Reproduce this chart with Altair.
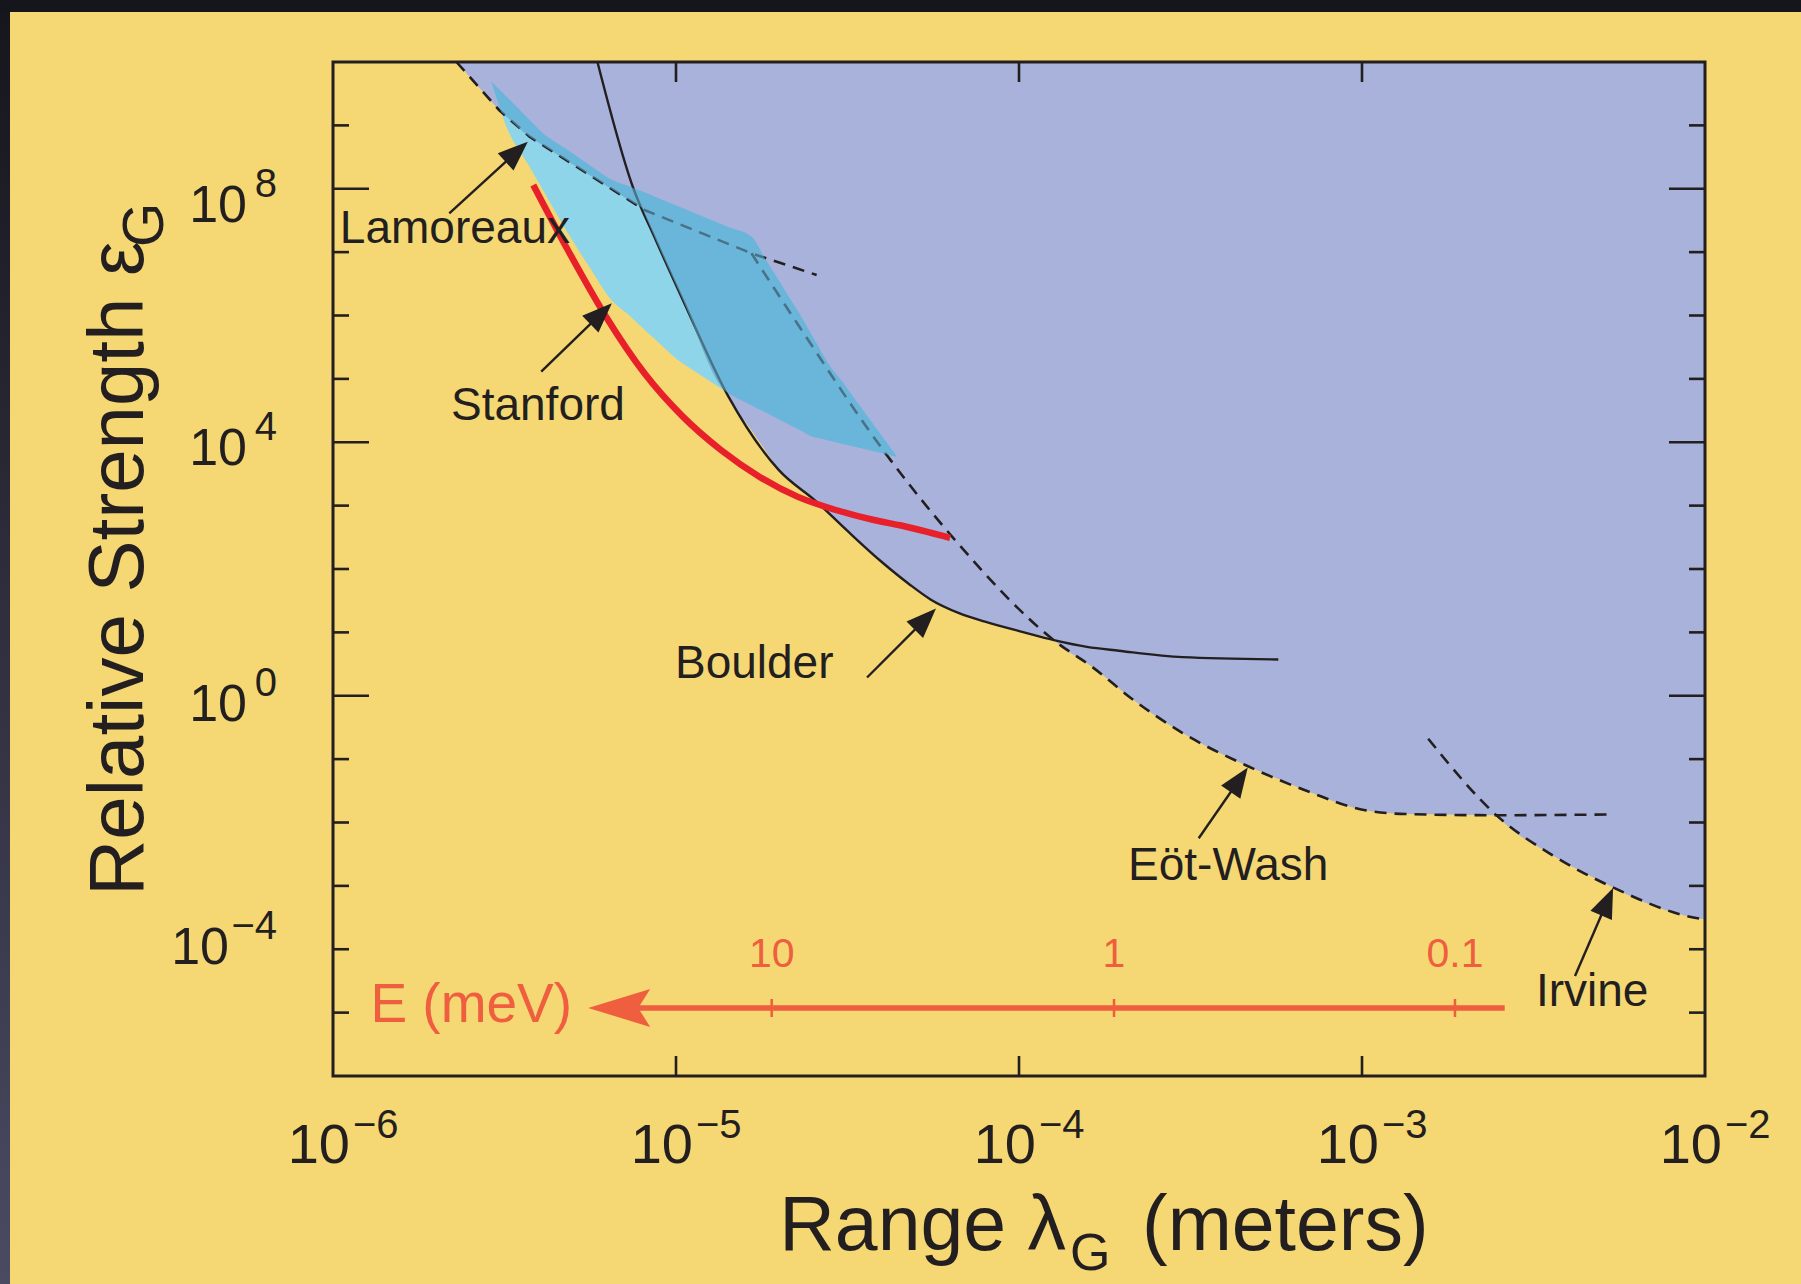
import math

import altair as alt
import numpy as np
import pandas as pd

# ---------------------------------------------------------------- layout
W, H = 1372, 1014                      # plot area in pixels
PAD = {"left": 333, "top": 62, "right": 96, "bottom": 208}
LOG_X = (-6.0, -2.0)                   # decades of lambda (m)
LOG_Y = (-6.0, 10.0)                   # decades of epsilon
PX_X = W / (LOG_X[1] - LOG_X[0])
PX_Y = H / (LOG_Y[1] - LOG_Y[0])

FONT = "Liberation Sans"
INK = "#231f20"
YELLOW = "#f5d873"
PURPLE = "#a9b2db"
CYAN_LIGHT = "#8fd5e9"
CYAN_DARK = "#69b6da"
STANFORD_RED = "#e8202a"
ENERGY_RED = "#ee5e3f"

# ---------------------------------------------------------------- data
# every curve: log10(lambda / m), log10(eps_G)
lamoreaux_x = [-5.640, -5.516, -5.427, -5.092, -4.780, -4.590]
lamoreaux_y = [10.00, 9.243, 8.821, 7.665, 6.981, 6.639]

boulder_x = [-5.229, -5.126, -5.059, -4.980, -4.847, -4.700, -4.590, -4.500,
             -4.400, -4.320, -4.258, -4.173, -4.099, -3.988, -3.895, -3.802,
             -3.709, -3.523, -3.244]
boulder_y = [10.00, 8.032, 7.191, 6.245, 4.719, 3.560, 3.060, 2.600,
             2.110, 1.760, 1.520, 1.300, 1.170, 1.005, 0.875, 0.772,
             0.711, 0.609, 0.572]

eotwash_x = [-4.780, -4.646, -4.389, -4.192, -3.895, -3.783, -3.672, -3.523,
             -3.337, -3.151, -3.002, -2.872, -2.612, -2.286]
eotwash_y = [6.981, 5.870, 3.824, 2.492, 0.862, 0.440, -0.043, -0.588,
             -1.101, -1.523, -1.795, -1.867, -1.885, -1.874]

irvine_x = [-2.807, -2.602, -2.444, -2.277, -2.017, -2.000]
irvine_y = [-0.678, -1.915, -2.519, -3.002, -3.516, -3.530]

stanford_x = [-5.416, -5.315, -5.204, -5.092, -4.980, -4.869, -4.757, -4.646,
              -4.534, -4.423, -4.347, -4.201]
stanford_y = [8.059, 7.030, 5.981, 5.088, 4.404, 3.878, 3.457, 3.142,
              2.931, 2.773, 2.690, 2.492]

# Lamoreaux Casimir band: upper and lower edges
band_top_x = [-5.538, -5.393, -5.204, -4.780, -4.635, -4.557, -4.512, -4.356]
band_top_y = [9.690, 8.901, 8.191, 7.244, 5.982, 5.245, 4.930, 3.772]
band_bot_x = [-5.538, -5.505, -5.427, -5.315, -5.204, -5.081, -4.981, -4.847,
              -4.601, -4.356]
band_bot_y = [9.690, 9.137, 8.348, 7.297, 6.350, 5.719, 5.245, 4.772,
              4.088, 3.772]

# annotation labels and their arrows
label_text = ["Lamoreaux", "Stanford", "Boulder", "Eöt-Wash", "Irvine"]
label_x = [-5.980, -5.656, -5.003, -3.682, -2.493]
label_y = [7.144, 4.351, 0.280, -2.907, -4.896]
arrow_tail_x = [-5.661, -5.393, -4.443, -3.476, -2.379]
arrow_tail_y = [7.613, 5.113, 0.288, -2.248, -4.422]
arrow_tip_x = [-5.432, -5.187, -4.242, -3.333, -2.268]
arrow_tip_y = [8.742, 6.193, 1.375, -1.131, -3.032]

# energy scale E = hbar c / lambda
energy_text = ["10", "1", "0.1"]
energy_x = [-4.721, -3.723, -2.729]
energy_line_y = -4.927
energy_tip_x = -5.256
energy_end_x = -2.584
energy_text_y = -4.280
energy_title_x, energy_title_y = -5.303, -5.148

# axis ticks
y_long = [8, 4, 0]
y_short = [9, 7, 6, 5, 3, 2, 1, -1, -2, -3, -4, -5]
y_labelled = [8, 4, 0, -4]
x_inner = [-5, -4, -3]
x_labelled = [-6, -5, -4, -3, -2]


# ---------------------------------------------------------------- helpers
def table(xv, yv, **extra):
    d = {"lam": 10.0 ** np.asarray(xv, float),
         "eps": 10.0 ** np.asarray(yv, float),
         "i": np.arange(len(xv))}
    for k, v in extra.items():
        d[k] = v
    return pd.DataFrame(d)


one = pd.DataFrame({"k": [0]})
xscale = alt.Scale(type="log", domain=[10 ** LOG_X[0], 10 ** LOG_X[1]], nice=False)
yscale = alt.Scale(type="log", domain=[10 ** LOG_Y[0], 10 ** LOG_Y[1]], nice=False)


def X(f="lam"):
    return alt.X(f"{f}:Q", scale=xscale, axis=None)


def Y(f="eps"):
    return alt.Y(f"{f}:Q", scale=yscale, axis=None)


def sup(e):
    return str(e).replace("-", "\u2212")


# ---------------------------------------------------------------- regions
curves = {
    "lam": (lamoreaux_x, lamoreaux_y),
    "bou": (boulder_x, boulder_y),
    "ew": (eotwash_x, eotwash_y),
    "irv": (irvine_x, irvine_y),
    "top": (band_top_x, band_top_y),
    "bot": (band_bot_x, band_bot_y),
}


def at(name, g):
    cx, cy = curves[name]
    return np.interp(g, cx, cy, left=np.inf, right=np.inf)


# common abscissae: all vertices plus every pairwise crossing
grid = np.array(sorted({x for cx, _ in curves.values() for x in cx}))
names = list(curves)
cross = []
for a in range(len(names)):
    for b in range(a + 1, len(names)):
        d = at(names[a], grid) - at(names[b], grid)
        for k in range(len(grid) - 1):
            if np.isfinite(d[k]) and np.isfinite(d[k + 1]) and d[k] * d[k + 1] < 0:
                cross.append(grid[k] + (grid[k + 1] - grid[k]) * d[k] / (d[k] - d[k + 1]))
grid = np.unique(np.concatenate([grid, cross]))

# lower edge of the excluded region = tightest of the four limits
limit = np.minimum.reduce([at(n, grid) for n in ("lam", "bou", "ew", "irv")])
keep = np.isfinite(limit)
excluded = table(grid[keep], limit[keep], eps2=10.0 ** LOG_Y[1])

inband = (grid >= band_top_x[0]) & (grid <= band_top_x[-1])
gb = grid[inband]
b_top, b_bot, b_lim = at("top", gb), at("bot", gb), limit[inband]
band_light = table(gb, b_bot, eps2=10.0 ** np.maximum(b_bot, np.minimum(b_top, b_lim)))
band_dark = table(gb, np.minimum(b_top, np.maximum(b_bot, b_lim)), eps2=10.0 ** b_top)

# ---------------------------------------------------------------- arrows
HEAD = 30
heads_x, heads_y, heads_a = [], [], []
for tx, ty, px, py in zip(arrow_tail_x, arrow_tail_y, arrow_tip_x, arrow_tip_y):
    dx, dy = (px - tx) * PX_X, -(py - ty) * PX_Y
    n = math.hypot(dx, dy)
    ux, uy = dx / n, dy / n
    heads_x.append(px - HEAD / 2 * ux / PX_X)
    heads_y.append(py + HEAD / 2 * uy / PX_Y)
    heads_a.append(math.degrees(math.atan2(ux, -uy)) % 360)

arrows = table(arrow_tail_x, arrow_tail_y,
               lam2=10.0 ** np.array(heads_x), eps2=10.0 ** np.array(heads_y))
heads = table(heads_x, heads_y, ang=heads_a)
labels = table(label_x, label_y, t=label_text)

E_HEAD = 62
energy_head_x = energy_tip_x + (E_HEAD / 2) / PX_X
energy_line = table([energy_head_x], [energy_line_y], lam2=[10.0 ** energy_end_x])
energy_head = table([energy_head_x], [energy_line_y])
energy_ticks = table(energy_x, [energy_line_y] * len(energy_x))
energy_labels = table(energy_x, [energy_text_y] * len(energy_x), t=energy_text)
energy_title = table([energy_title_x], [energy_title_y])

# ---------------------------------------------------------------- layers
layers = []

# dark border strips of the slide
layers.append(alt.Chart(one).mark_rect(color="#15151c").encode(
    x=alt.value(-PAD["left"]), x2=alt.value(W + PAD["right"]),
    y=alt.value(-PAD["top"]), y2=alt.value(-PAD["top"] + 12)))
layers.append(alt.Chart(one).mark_rect(color=alt.Gradient(
    gradient="linear", x1=0, x2=0, y1=0, y2=1,
    stops=[alt.GradientStop(color="#16161d", offset=0),
           alt.GradientStop(color="#4a4a62", offset=1)])).encode(
    x=alt.value(-PAD["left"]), x2=alt.value(-PAD["left"] + 10),
    y=alt.value(-PAD["top"] + 12), y2=alt.value(H + PAD["bottom"])))

SMOOTH = "monotone"

# excluded parameter space
layers.append(alt.Chart(excluded).mark_area(
    color=PURPLE, opacity=1, interpolate=SMOOTH, orient="vertical").encode(
    x=X(), y=Y(), y2=alt.Y2("eps2:Q")))
# Casimir band
layers.append(alt.Chart(band_light).mark_area(
    color=CYAN_LIGHT, opacity=1, interpolate=SMOOTH, orient="vertical").encode(
    x=X(), y=Y(), y2=alt.Y2("eps2:Q")))
layers.append(alt.Chart(band_dark).mark_area(
    color=CYAN_DARK, opacity=1, interpolate=SMOOTH, orient="vertical").encode(
    x=X(), y=Y(), y2=alt.Y2("eps2:Q")))

# limit curves
dash = [12, 8]
layers.append(alt.Chart(table(boulder_x, boulder_y)).mark_line(
    color=INK, strokeWidth=2.4, interpolate=SMOOTH).encode(x=X(), y=Y(), order="i:Q"))
layers.append(alt.Chart(table(lamoreaux_x, lamoreaux_y)).mark_line(
    color=INK, strokeWidth=2.6, strokeDash=dash).encode(x=X(), y=Y(), order="i:Q"))
for cx, cy in ((eotwash_x, eotwash_y), (irvine_x, irvine_y)):
    layers.append(alt.Chart(table(cx, cy)).mark_line(
        color=INK, strokeWidth=2.6, strokeDash=dash, interpolate=SMOOTH).encode(
        x=X(), y=Y(), order="i:Q"))

# curves seen through the band
layers.append(alt.Chart(band_dark).mark_area(
    color=CYAN_DARK, opacity=0.55, interpolate=SMOOTH, orient="vertical").encode(
    x=X(), y=Y(), y2=alt.Y2("eps2:Q")))

layers.append(alt.Chart(table(stanford_x, stanford_y)).mark_line(
    color=STANFORD_RED, strokeWidth=6.5, interpolate=SMOOTH).encode(
    x=X(), y=Y(), order="i:Q"))

# frame and ticks
layers.append(alt.Chart(one).mark_rect(filled=False, stroke=INK, strokeWidth=3).encode(
    x=alt.value(0), x2=alt.value(W), y=alt.value(0), y2=alt.value(H)))
for vals, ln in ((y_long, 36), (y_short, 16)):
    d = table([LOG_X[0]] * len(vals), vals)
    layers.append(alt.Chart(d).mark_rule(color=INK, strokeWidth=2.6).encode(
        y=Y(), x=alt.value(0), x2=alt.value(ln)))
    layers.append(alt.Chart(d).mark_rule(color=INK, strokeWidth=2.6).encode(
        y=Y(), x=alt.value(W - ln), x2=alt.value(W)))
dx_in = table(x_inner, [LOG_Y[0]] * len(x_inner))
layers.append(alt.Chart(dx_in).mark_rule(color=INK, strokeWidth=2.6).encode(
    x=X(), y=alt.value(0), y2=alt.value(20)))
layers.append(alt.Chart(dx_in).mark_rule(color=INK, strokeWidth=2.6).encode(
    x=X(), y=alt.value(H - 20), y2=alt.value(H)))

# annotations
layers.append(alt.Chart(arrows).mark_rule(color=INK, strokeWidth=2.4).encode(
    x=X(), y=Y(), x2=alt.X2("lam2:Q"), y2=alt.Y2("eps2:Q")))
layers.append(alt.Chart(heads).mark_point(
    shape="M0,-1L0.78,1L-0.78,1Z", size=HEAD ** 2, filled=True, color=INK,
    opacity=1, strokeWidth=0).encode(x=X(), y=Y(), angle=alt.Angle("ang:Q", scale=None)))
layers.append(alt.Chart(labels).mark_text(
    font=FONT, fontSize=46, color=INK, align="left", baseline="alphabetic").encode(
    x=X(), y=Y(), text="t:N"))

# energy scale
layers.append(alt.Chart(energy_line).mark_rule(color=ENERGY_RED, strokeWidth=5.5).encode(
    x=X(), x2=alt.X2("lam2:Q"), y=Y()))
layers.append(alt.Chart(energy_head).mark_point(
    shape="M-1,0L1,-0.61L0.613,0L1,0.61Z", size=E_HEAD ** 2, filled=True,
    color=ENERGY_RED, opacity=1, strokeWidth=0).encode(x=X(), y=Y()))
layers.append(alt.Chart(energy_ticks).mark_point(
    shape="M0,-1L0,1", size=18 ** 2, filled=False, color=ENERGY_RED,
    opacity=1, strokeWidth=2.5).encode(x=X(), y=Y()))
layers.append(alt.Chart(energy_labels).mark_text(
    font=FONT, fontSize=41, color=ENERGY_RED, align="center", baseline="alphabetic").encode(
    x=X(), y=Y(), text="t:N"))
layers.append(alt.Chart(energy_title).mark_text(
    font=FONT, fontSize=55, color=ENERGY_RED, align="right", baseline="alphabetic",
    text="E (meV)").encode(x=X(), y=Y()))

# y tick labels: base "10" and raised exponent, nudged per decade
label_dy = {8: 33, 4: 23, 0: 25, -4: 15}
label_base_x = {8: -86, 4: -86, 0: -86, -4: -104}
for v in y_labelled:
    d = table([LOG_X[0]], [v], s=[sup(v)])
    layers.append(alt.Chart(d).mark_text(
        font=FONT, fontSize=52, color=INK, align="right", baseline="alphabetic",
        dy=label_dy[v], text="10").encode(y=Y(), x=alt.value(label_base_x[v])))
    layers.append(alt.Chart(d).mark_text(
        font=FONT, fontSize=40, color=INK, align="right", baseline="alphabetic",
        dy=label_dy[v] - 25).encode(y=Y(), x=alt.value(-56), text="s:N"))

# x tick labels
dxl = table(x_labelled, [LOG_Y[0]] * len(x_labelled), s=[sup(v) for v in x_labelled])
layers.append(alt.Chart(dxl).mark_text(
    font=FONT, fontSize=56, color=INK, align="right", baseline="alphabetic",
    dx=17, text="10").encode(x=X(), y=alt.value(1101)))
layers.append(alt.Chart(dxl).mark_text(
    font=FONT, fontSize=40, color=INK, align="left", baseline="alphabetic",
    dx=20).encode(x=X(), y=alt.value(1076), text="s:N"))

# axis titles
layers.append(alt.Chart(one).mark_text(
    font=FONT, fontSize=77, color=INK, align="right", baseline="alphabetic",
    text="Range \u03bb").encode(x=alt.value(733), y=alt.value(1188)))
layers.append(alt.Chart(one).mark_text(
    font=FONT, fontSize=52, color=INK, align="left", baseline="alphabetic",
    text="G").encode(x=alt.value(737), y=alt.value(1208)))
layers.append(alt.Chart(one).mark_text(
    font=FONT, fontSize=77, color=INK, align="left", baseline="alphabetic",
    text="(meters)").encode(x=alt.value(809), y=alt.value(1188)))
layers.append(alt.Chart(one).mark_text(
    font=FONT, fontSize=78, color=INK, align="left", baseline="alphabetic",
    angle=270, text="Relative Strength \u03b5").encode(x=alt.value(-190), y=alt.value(834)))
layers.append(alt.Chart(one).mark_text(
    font=FONT, fontSize=57, color=INK, align="left", baseline="alphabetic",
    angle=270, text="G").encode(x=alt.value(-170), y=alt.value(185)))

chart = alt.layer(*layers).properties(
    width=W, height=H, padding=PAD,
    autosize=alt.AutoSizeParams(type="none"),
    background=YELLOW,
).configure_view(strokeWidth=0)

chart.save("out.html", embed_options={"renderer": "svg", "actions": False})
